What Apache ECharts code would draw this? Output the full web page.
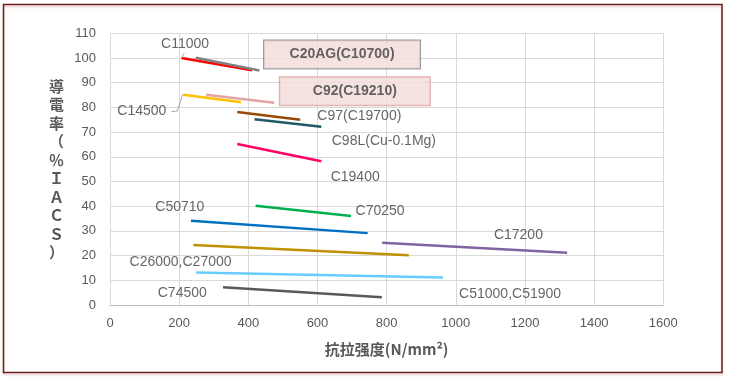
<!DOCTYPE html>
<html><head><meta charset="utf-8">
<script src="https://cdn.jsdelivr.net/npm/echarts@6/dist/echarts.min.js"></script>
<style>html,body{margin:0;padding:0;background:#fff}#c{width:731px;height:383px}</style>
</head><body><div id="c"></div>
<script>
// Alloys: [tensile start, conductivity start, tensile end, conductivity end]
const alloyNames = ['C11000','C20AG(C10700)','C14500','C92(C19210)','C97(C19700)','C98L(Cu-0.1Mg)','C19400','C70250','C50710','C26000,C27000','C17200','C51000,C51900','C74500'];
const tensileStart = [207, 248, 212, 278, 368, 418, 368, 421, 234, 241, 787, 249, 327];
const condStart    = [100, 100.1, 85.1, 85.1, 78.1, 75.2, 65.2, 40.2, 34.1, 24.3, 25.2, 13.2, 7.2];
const tensileEnd   = [411, 432, 379, 475, 550, 611, 611, 697, 745, 864, 1322, 963, 786];
const condEnd      = [95.0, 94.9, 82.1, 81.9, 75.0, 72.2, 58.2, 36.0, 29.1, 20.1, 21.2, 11.1, 3.1];
const lineColors   = ['#ff0000','#808080','#ffc000','#e6a3a3','#984807','#215967','#ff0066','#00b050','#0070c0','#c09000','#8064a2','#66ccff','#595959'];

// text labels anchored in data coordinates
const labelTexts = ['C11000','C14500','C97(C19700)','C98L(Cu-0.1Mg)','C19400','C50710','C70250','C17200','C26000,C27000','C74500','C51000,C51900'];
const labelX = [217, 92, 721, 792, 709, 202, 781, 1181, 204, 209, 1157];
const labelY = [105.7, 78.3, 76.6, 66.4, 51.9, 39.8, 38.2, 28.1, 17.5, 4.6, 4.5];
const boxTexts = ['C20AG(C10700)','C92(C19210)'];
const boxX = [671, 708];
const boxY = [101.4, 86.5];
const boxBorders = ['#7f7f7f','#d99694'];
const boxWidths = [156, 150];

const xTicks = {min:0, max:1600, interval:200};
const yTicks = {min:0, max:110, interval:10};

const series = [];
alloyNames.forEach((n,i)=>{
  series.push({type:'line', name:n, data:[[tensileStart[i],condStart[i]],[tensileEnd[i],condEnd[i]]],
    symbol:'none', lineStyle:{color:lineColors[i], width:2.5}, z:3, silent:true});
});
// leader lines
series.push({type:'line', data:[[178,78.3],[194.6,78.5],[210.2,85.3]], symbol:'none', lineStyle:{color:'#a6a6a6', width:1}, silent:true});
series.push({type:'line', data:[[214.8,102.1],[207.3,100]], symbol:'none', lineStyle:{color:'#a6a6a6', width:1}, silent:true});
// labels
series.push({type:'scatter', symbolSize:0, silent:true, z:5,
  data: labelTexts.map((t,i)=>({value:[labelX[i],labelY[i]], name:t})),
  label:{show:true, position:'inside', formatter:p=>p.name, color:'#404040', fontSize:14, fontFamily:'Liberation Sans, Arial, sans-serif'}
});
series.push({type:'scatter', symbolSize:0, silent:true, z:6,
  data: boxTexts.map((t,i)=>({value:[boxX[i],boxY[i]], name:t,
    label:{borderColor:boxBorders[i], width:boxWidths[i]}})),
  label:{show:true, position:'inside', formatter:p=>p.name, color:'#404040', fontSize:14, fontWeight:'bold',
    fontFamily:'Liberation Sans, Arial, sans-serif', backgroundColor:'#f2dcdb', borderWidth:1,
    height:28, lineHeight:28, align:'center', verticalAlign:'middle', padding:0}
});

const chart = echarts.init(document.getElementById('c'));
chart.setOption({
  animation:false,
  graphic:[{type:'rect', shape:{x:3.5,y:4.5,width:718.5,height:368}, style:{fill:'none', stroke:'#6b1c1c', lineWidth:1.5, shadowColor:'rgba(200,100,100,0.35)', shadowOffsetY:2, shadowBlur:2}, z:-1}],
  grid:{left:110, top:33.3, right:67.7, bottom:78},
  xAxis:{type:'value', min:xTicks.min, max:xTicks.max, interval:xTicks.interval,
    name:'抗拉强度(N/mm²)', nameLocation:'middle', nameGap:37,
    nameTextStyle:{fontSize:15, fontWeight:'bold', color:'#595959', fontFamily:'Noto Sans CJK JP, sans-serif'},
    axisLine:{show:true, lineStyle:{color:'#bfbfbf'}}, axisTick:{show:false},
    axisLabel:{color:'#595959', fontSize:13, margin:12, fontFamily:'Liberation Sans, Arial, sans-serif', formatter:v=>String(v)},
    splitLine:{show:true, lineStyle:{color:'#d9d9d9'}}},
  yAxis:{type:'value', min:yTicks.min, max:yTicks.max, interval:yTicks.interval,
    name:'導電率（％ＩＡＣＳ）'.split('').join('\n'), nameLocation:'middle', nameGap:46, nameRotate:0,
    nameTextStyle:{fontSize:15, fontWeight:'bold', color:'#595959', lineHeight:18.5, fontFamily:'Noto Sans CJK JP, sans-serif'},
    axisLine:{show:true, lineStyle:{color:'#d9d9d9'}}, axisTick:{show:false},
    axisLabel:{color:'#595959', fontSize:13, margin:14, fontFamily:'Liberation Sans, Arial, sans-serif'},
    splitLine:{show:true, lineStyle:{color:'#d9d9d9'}}},
  series
});
</script></body></html>
